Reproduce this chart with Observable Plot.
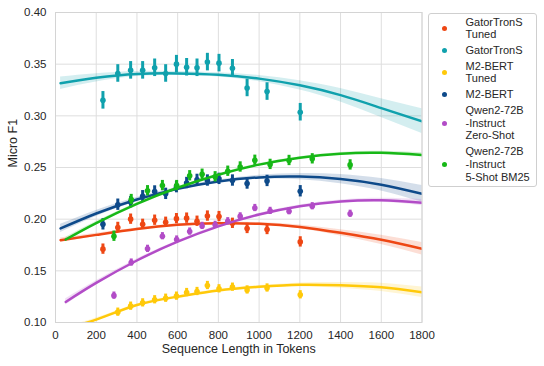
<!DOCTYPE html>
<html>
<head>
<meta charset="utf-8">
<script src="https://cdn.jsdelivr.net/npm/d3@7"></script>
<script src="https://cdn.jsdelivr.net/npm/@observablehq/plot@0.6"></script>
<style>
  html, body { margin: 0; padding: 0; background: #fff; }
  #wrap { position: relative; width: 544px; height: 366px; font-family: "Liberation Sans", Arial, sans-serif; }
  #legend { position: absolute; left: 428px; top: 12.5px; width: 107px; height: 170px; border: 1px solid #cfcfcf; border-radius: 3px; background: #fff; box-sizing: content-box; padding-top: 2px; }
  .item { display: flex; align-items: center; margin-bottom: 3.3px; }
  .sw { width: 5px; height: 5px; border-radius: 50%; margin-left: 13px; flex: none; }
  .lbl { margin-left: 18.5px; font-size: 11px; line-height: 12.6px; color: #262626; white-space: pre; }
</style>
</head>
<body>
<div id="wrap"><div id="chart"></div><div id="legend"></div></div>
<script>
// ---------- data ----------
const seriesNames = [
  "GatorTronS\nTuned", "GatorTronS", "M2-BERT\nTuned", "M2-BERT",
  "Qwen2-72B\n-Instruct\nZero-Shot", "Qwen2-72B\n-Instruct\n5-Shot BM25"
];
const seriesColors = ["#ee4714", "#10a1ad", "#ffc90a", "#0e4a8a", "#b24cc7", "#17b817"];

// binned sequence lengths (tokens)
const bertBinsX = [233, 306, 369, 428, 487, 541, 594, 644, 695, 746, 803, 869, 941, 1039, 1202];
const qwenBinsX = [287, 372, 452, 525, 595, 659, 720, 784, 846, 907, 979, 1054, 1147, 1261, 1447];

// bin means (Micro F1)
const gatorTunedF1 = [0.171, 0.192, 0.200, 0.195, 0.199, 0.197, 0.2005, 0.201, 0.198, 0.203, 0.2025, 0.196, 0.191, 0.190, 0.178];
const gatorF1      = [0.315, 0.341, 0.344, 0.344, 0.3465, 0.341, 0.350, 0.347, 0.3465, 0.352, 0.351, 0.346, 0.327, 0.3235, 0.3035];
const m2TunedF1    = [null, 0.110, 0.1158, 0.119, 0.122, 0.1235, 0.1255, 0.129, 0.130, 0.1358, 0.1326, 0.1342, 0.1315, 0.1334, 0.1268];
const m2F1         = [0.195, 0.214, 0.2165, 0.2222, 0.2268, 0.2245, 0.231, 0.235, 0.238, 0.2374, 0.239, 0.2374, 0.2345, 0.237, 0.227];
const qwenZeroF1   = [0.126, 0.158, 0.1713, 0.1835, 0.1803, 0.188, 0.1935, 0.1945, 0.198, 0.2027, 0.2108, 0.208, 0.2077, 0.2125, 0.2052];
const qwenFewF1    = [0.1835, 0.219, 0.2275, 0.2325, 0.2325, 0.242, 0.2435, 0.241, 0.2464, 0.2505, 0.257, 0.253, 0.2568, 0.2584, 0.2525];

// error-bar half widths (CI) per series
const errHalf = [0.005, 0.0085, 0.004, 0.0055, 0.0035, 0.005];

// fitted trend curves (order-2 regression) read at these lengths
const fitXBert = [25, 200, 400, 600, 800, 1000, 1200, 1400, 1600, 1800];
const fitXQwen = [50, 200, 400, 600, 800, 1000, 1200, 1400, 1600, 1800];
const fitGatorTuned = [0.1797, 0.1848, 0.1905, 0.1945, 0.196, 0.1955, 0.1925, 0.1868, 0.1800, 0.1713];
const fitGator      = [0.3316, 0.3368, 0.3405, 0.341, 0.3397, 0.336, 0.3295, 0.320, 0.3075, 0.2948];
const fitM2Tuned    = [0.093, 0.1028, 0.117, 0.125, 0.131, 0.1345, 0.1365, 0.136, 0.134, 0.1293];
const fitM2         = [0.191, 0.2055, 0.219, 0.2293, 0.2364, 0.2404, 0.2412, 0.2388, 0.2333, 0.2245];
const fitQwenZero   = [0.1199, 0.1383, 0.160, 0.1782, 0.193, 0.2045, 0.2125, 0.2171, 0.2183, 0.216];
const fitQwenFew    = [0.1803, 0.1962, 0.2148, 0.2304, 0.243, 0.2528, 0.2595, 0.2634, 0.2642, 0.2622];

// confidence band half widths at the same lengths
const ciGatorTuned = [0.002, 0.0015, 0.001, 0.001, 0.001, 0.0012, 0.0018, 0.003, 0.0045, 0.006];
const ciGator      = [0.006, 0.004, 0.0025, 0.002, 0.002, 0.003, 0.0045, 0.0065, 0.009, 0.012];
const ciM2Tuned    = [0.002, 0.0015, 0.001, 0.001, 0.001, 0.0012, 0.0018, 0.0028, 0.004, 0.005];
const ciM2         = [0.004, 0.003, 0.002, 0.0015, 0.0015, 0.002, 0.003, 0.0045, 0.006, 0.008];
const ciQwenZero   = [0.003, 0.002, 0.0015, 0.001, 0.001, 0.001, 0.0012, 0.0015, 0.002, 0.003];
const ciQwenFew    = [0.002, 0.0015, 0.001, 0.001, 0.001, 0.001, 0.001, 0.0012, 0.0015, 0.002];

const xTicks = [0, 200, 400, 600, 800, 1000, 1200, 1400, 1600, 1800];
const yTicks = [0.10, 0.15, 0.20, 0.25, 0.30, 0.35, 0.40];

// ---------- tables built from the arrays ----------
const pointSets = [
  [bertBinsX, gatorTunedF1], [bertBinsX, gatorF1], [bertBinsX, m2TunedF1],
  [bertBinsX, m2F1], [qwenBinsX, qwenZeroF1], [qwenBinsX, qwenFewF1]
];
const fitSets = [
  [fitXBert, fitGatorTuned, ciGatorTuned], [fitXBert, fitGator, ciGator],
  [fitXBert, fitM2Tuned, ciM2Tuned], [fitXBert, fitM2, ciM2],
  [fitXQwen, fitQwenZero, ciQwenZero], [fitXQwen, fitQwenFew, ciQwenFew]
];

const marks = [
  Plot.gridX(xTicks, {stroke: "#dedede", strokeOpacity: 1, strokeWidth: 1}),
  Plot.gridY(yTicks, {stroke: "#dedede", strokeOpacity: 1, strokeWidth: 1}),
  Plot.frame({stroke: "#d4d4d4"})
];

seriesNames.forEach((name, i) => {
  const color = seriesColors[i];
  const [xs, ys] = pointSets[i];
  const pts = xs.map((x, j) => ({x, y: ys[j], lo: ys[j] - errHalf[i], hi: ys[j] + errHalf[i]}))
                .filter(d => d.y != null);
  const [fx, fy, fc] = fitSets[i];
  const fit = fx.map((x, j) => ({x, y: fy[j], y1: fy[j] - fc[j], y2: fy[j] + fc[j]}));
  marks.push(
    Plot.ruleX(pts, {x: "x", y1: "lo", y2: "hi", stroke: color, strokeWidth: 3}),
    Plot.dot(pts, {x: "x", y: "y", r: 2.8, fill: color, stroke: "none"}),
    Plot.areaY(fit, {x: "x", y1: "y1", y2: "y2", fill: color, fillOpacity: 0.18, curve: "natural", clip: true}),
    Plot.line(fit, {x: "x", y: "y", stroke: color, strokeWidth: 2.5, curve: "natural", clip: true})
  );
});

marks.push(
  Plot.axisX(xTicks, {tickSize: 0, tickPadding: 8, fontSize: 11.5, fill: "#262626", label: null, tickFormat: d3.format("d")}),
  Plot.axisY(yTicks, {tickSize: 0, tickPadding: 9, fontSize: 11.5, fill: "#262626", label: null, tickFormat: d3.format(".2f")}),
  Plot.text(["Sequence Length in Tokens"], {frameAnchor: "bottom", dy: 30, fontSize: 12.5, fill: "#262626"}),
  Plot.text(["Micro F1"], {frameAnchor: "left", dx: -43, rotate: -90, fontSize: 12.5, fill: "#262626"})
);

const chart = Plot.plot({
  width: 544,
  height: 366,
  marginLeft: 55,
  marginRight: 122.5,
  marginTop: 12,
  marginBottom: 44,
  style: {fontFamily: "'Liberation Sans', Arial, sans-serif", background: "#fff"},
  x: {domain: [0, 1800]},
  y: {domain: [0.10, 0.40]},
  marks
});
document.getElementById("chart").appendChild(chart);

// legend
const legend = document.getElementById("legend");
seriesNames.forEach((name, i) => {
  const item = document.createElement("div");
  item.className = "item";
  const sw = document.createElement("span");
  sw.className = "sw";
  sw.style.background = seriesColors[i];
  const lbl = document.createElement("span");
  lbl.className = "lbl";
  lbl.textContent = name;
  item.appendChild(sw);
  item.appendChild(lbl);
  legend.appendChild(item);
});
</script>
</body>
</html>
